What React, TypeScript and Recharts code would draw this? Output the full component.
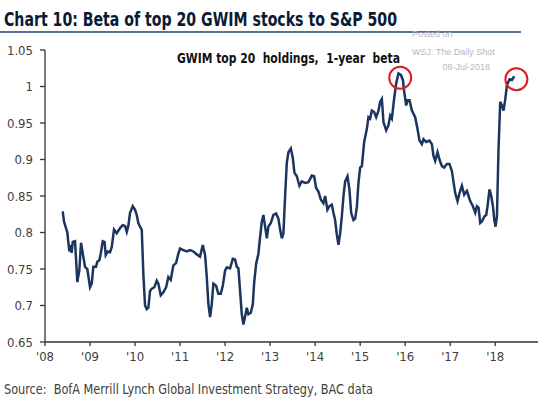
import React from "react";
import {
  LineChart,
  Line,
  XAxis,
  YAxis,
  ReferenceDot,
} from "recharts";

// decimal years
const dates = [
  2008.393, 2008.422, 2008.467, 2008.496, 2008.54, 2008.571, 2008.593, 2008.616,
  2008.667, 2008.718, 2008.762, 2008.8, 2008.851, 2008.889, 2008.94, 2009.0,
  2009.038, 2009.073, 2009.133, 2009.162, 2009.207, 2009.238, 2009.282, 2009.322,
  2009.349, 2009.393, 2009.444, 2009.482, 2009.533, 2009.593, 2009.667, 2009.727,
  2009.778, 2009.816, 2009.851, 2009.889, 2009.949, 2010.0, 2010.038, 2010.073,
  2010.111, 2010.149, 2010.184, 2010.222, 2010.26, 2010.296, 2010.333, 2010.371,
  2010.429, 2010.482, 2010.518, 2010.571, 2010.629, 2010.689, 2010.74, 2010.793,
  2010.851, 2010.911, 2010.962, 2011.0, 2011.073, 2011.149, 2011.222, 2011.296,
  2011.371, 2011.444, 2011.504, 2011.556, 2011.593, 2011.629, 2011.667, 2011.704,
  2011.74, 2011.8, 2011.851, 2011.904, 2011.949, 2012.0, 2012.038, 2012.111,
  2012.171, 2012.222, 2012.26, 2012.296, 2012.333, 2012.371, 2012.407, 2012.444,
  2012.482, 2012.518, 2012.571, 2012.616, 2012.644, 2012.689, 2012.74, 2012.778,
  2012.816, 2012.851, 2012.889, 2012.927, 2012.962, 2013.016, 2013.073, 2013.133,
  2013.184, 2013.222, 2013.26, 2013.296, 2013.333, 2013.371, 2013.407, 2013.46,
  2013.504, 2013.54, 2013.593, 2013.651, 2013.704, 2013.778, 2013.851, 2013.927,
  2013.978, 2014.022, 2014.073, 2014.127, 2014.184, 2014.222, 2014.273, 2014.318,
  2014.371, 2014.407, 2014.444, 2014.482, 2014.518, 2014.556, 2014.593, 2014.629,
  2014.667, 2014.718, 2014.762, 2014.8, 2014.851, 2014.889, 2014.927, 2014.962,
  2015.0, 2015.038, 2015.089, 2015.149, 2015.184, 2015.222, 2015.26, 2015.311,
  2015.356, 2015.407, 2015.444, 2015.482, 2015.518, 2015.578, 2015.629, 2015.667,
  2015.704, 2015.756, 2015.8, 2015.851, 2015.904, 2015.949, 2015.978, 2016.022,
  2016.051, 2016.096, 2016.149, 2016.222, 2016.273, 2016.318, 2016.371, 2016.407,
  2016.467, 2016.54, 2016.593, 2016.629, 2016.667, 2016.718, 2016.762, 2016.816,
  2016.867, 2016.927, 2016.984, 2017.038, 2017.111, 2017.162, 2017.207, 2017.26,
  2017.311, 2017.371, 2017.407, 2017.444, 2017.504, 2017.556, 2017.593, 2017.629,
  2017.667, 2017.704, 2017.756, 2017.8, 2017.829, 2017.873, 2017.911, 2017.949,
  2017.978, 2018.007, 2018.038, 2018.073, 2018.111, 2018.149, 2018.184, 2018.222,
  2018.26, 2018.318, 2018.371, 2018.422,
];

const beta = [
  0.829, 0.815, 0.806, 0.8, 0.774, 0.783, 0.772, 0.787,
  0.788, 0.732, 0.748, 0.786, 0.767, 0.753, 0.75, 0.725,
  0.73, 0.753, 0.753, 0.76, 0.762, 0.771, 0.788, 0.787,
  0.769, 0.774, 0.773, 0.78, 0.804, 0.799, 0.806, 0.81,
  0.809, 0.801, 0.809, 0.827, 0.836, 0.831, 0.824, 0.813,
  0.808, 0.804, 0.744, 0.7, 0.695, 0.697, 0.72, 0.723,
  0.725, 0.734, 0.73, 0.714, 0.718, 0.725, 0.739, 0.735,
  0.755, 0.758, 0.771, 0.778, 0.776, 0.774, 0.776, 0.774,
  0.77, 0.767, 0.783, 0.769, 0.739, 0.702, 0.684, 0.702,
  0.73, 0.727, 0.716, 0.716, 0.727, 0.748, 0.752, 0.751,
  0.764, 0.763, 0.753, 0.751, 0.72, 0.688, 0.674, 0.685,
  0.697, 0.688, 0.69, 0.702, 0.73, 0.757, 0.771, 0.794,
  0.815, 0.824, 0.808, 0.792, 0.808, 0.813, 0.824, 0.826,
  0.819, 0.804, 0.792, 0.799, 0.85, 0.896, 0.91, 0.915,
  0.902, 0.882, 0.877, 0.864, 0.87, 0.868, 0.869, 0.878,
  0.877, 0.861, 0.856, 0.845, 0.84, 0.85, 0.831, 0.836,
  0.838, 0.827, 0.817, 0.797, 0.783, 0.799, 0.822, 0.85,
  0.87, 0.877, 0.859, 0.827, 0.817, 0.819, 0.835, 0.868,
  0.889, 0.891, 0.924, 0.942, 0.958, 0.956, 0.967, 0.965,
  0.958, 0.967, 0.979, 0.983, 0.951, 0.94, 0.947, 0.96,
  0.956, 0.984, 1.004, 1.018, 1.016, 1.009, 0.993, 0.974,
  0.981, 0.981, 0.967, 0.958, 0.942, 0.926, 0.921, 0.928,
  0.924, 0.926, 0.921, 0.905, 0.898, 0.91, 0.9, 0.891,
  0.889, 0.894, 0.894, 0.884, 0.854, 0.843, 0.854, 0.864,
  0.852, 0.857, 0.85, 0.843, 0.836, 0.827, 0.836, 0.834,
  0.813, 0.815, 0.822, 0.824, 0.836, 0.859, 0.85, 0.836,
  0.818, 0.808, 0.822, 0.914, 0.979, 0.974, 0.967, 0.982,
  1.002, 1.01, 1.009, 1.014,
];

const yearTicks = [2008, 2009, 2010, 2011, 2012, 2013, 2014, 2015, 2016, 2017, 2018];
const betaTicks = [0.65, 0.7, 0.75, 0.8, 0.85, 0.9, 0.95, 1, 1.05];

// the two circled highs
const circled = [
  { t: 2015.89, v: 1.012 },
  { t: 2018.47, v: 1.01 },
];

const data = dates.map((t, i) => ({ t, beta: beta[i] }));

const narrow = "'Liberation Sans Narrow', 'DejaVu Sans Condensed', 'Roboto', sans-serif";

const App: React.FC = () => {
  return (
    <div style={{ position: "absolute", left: 0, top: 0, width: 540, height: 409, background: "#fff" }}>
      <LineChart
        width={540}
        height={409}
        data={data}
        margin={{ top: 50, right: 2, bottom: 37, left: 0 }}
      >
        <XAxis
          dataKey="t"
          type="number"
          domain={[2008, 2018.95]}
          ticks={yearTicks}
          tickFormatter={(y: number) => "'" + String(y).slice(2)}
          axisLine={{ stroke: "#333", strokeWidth: 1.3 }}
          tickLine={{ stroke: "#333", strokeWidth: 1.3 }}
          tickSize={4}
          tickMargin={6}
          height={30}
          tick={{ fill: "#404040", fontSize: 13, fontFamily: narrow }}
          allowDataOverflow
        />
        <YAxis
          type="number"
          domain={[0.65, 1.05]}
          ticks={betaTicks}
          tickFormatter={(v: number) => String(+v.toFixed(2))}
          axisLine={{ stroke: "#333", strokeWidth: 1.3 }}
          tickLine={{ stroke: "#333", strokeWidth: 1.3 }}
          tickSize={5}
          tickMargin={7}
          width={45}
          tick={{ fill: "#404040", fontSize: 13, fontFamily: narrow }}
          allowDataOverflow
        />
        <Line
          type="linear"
          dataKey="beta"
          stroke="#1c355e"
          strokeWidth={2.5}
          dot={false}
          isAnimationActive={false}
        />
        {circled.map((c) => (
          <ReferenceDot
            key={c.t}
            x={c.t}
            y={c.v}
            r={11}
            fill="none"
            stroke="#e01a22"
            strokeWidth={2}
            ifOverflow="visible"
          />
        ))}
      </LineChart>
      <svg
        width={540}
        height={409}
        style={{ position: "absolute", left: 0, top: 0, pointerEvents: "none" }}
      >
        <text
          x={4}
          y={26}
          fontFamily={narrow}
          fontWeight="bold"
          fontSize={19}
          fill="#0b1a33"
          textLength={393}
          lengthAdjust="spacingAndGlyphs"
        >
          Chart 10: Beta of top 20 GWIM stocks to S&amp;P 500
        </text>
        <line x1={0} y1={32} x2={521} y2={32} stroke="#5b7090" strokeWidth={2} />
        <text x={412} y={37} fontFamily="'Liberation Sans', Arial, sans-serif" fontSize={9} fill="#b8b8b8">
          Posted on
        </text>
        <text x={412} y={55} fontFamily="'Liberation Sans', Arial, sans-serif" fontSize={9} fill="#b8b8b8">
          WSJ: The Daily Shot
        </text>
        <text x={490} y={70} textAnchor="end" fontFamily="'Liberation Sans', Arial, sans-serif" fontSize={9} fill="#b8b8b8">
          08-Jul-2018
        </text>
        <text
          x={177}
          y={63}
          fontFamily={narrow}
          fontWeight="bold"
          fontSize={14}
          fill="#111"
          textLength={223}
          lengthAdjust="spacingAndGlyphs"
          xmlSpace="preserve"
        >
          GWIM top 20  holdings,  1-year  beta
        </text>
        <text
          x={4}
          y={394}
          fontFamily={narrow}
          fontSize={14}
          fill="#404040"
          textLength={369}
          lengthAdjust="spacingAndGlyphs"
          xmlSpace="preserve"
        >
          Source:  BofA Merrill Lynch Global Investment Strategy, BAC data
        </text>
      </svg>
    </div>
  );
};

export default App;
